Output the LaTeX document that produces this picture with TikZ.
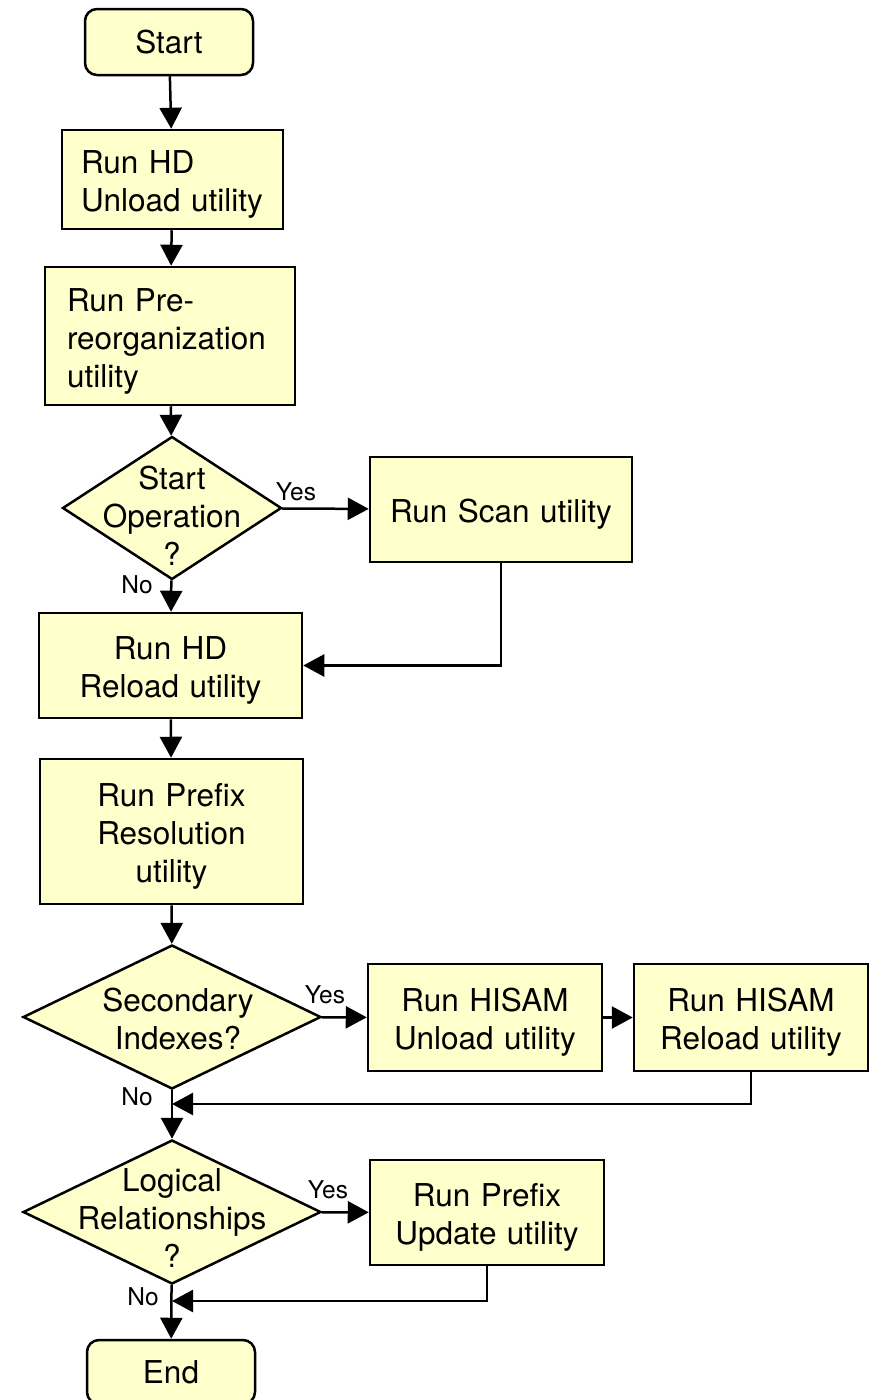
\documentclass[tikz,border=0pt]{standalone}
\usepackage{fontspec}
\setmainfont{TeX Gyre Heros}
\usepackage{tikz}
\usetikzlibrary{arrows.meta,shapes.geometric}

\definecolor{boxfill}{RGB}{255,255,204}

\tikzset{
  txt/.style={font=\fontsize{31.5}{38}\selectfont},
  plain/.style={txt,draw,line width=2.5pt,fill=boxfill,rectangle,align=center,inner sep=0pt},
  box/.style={plain,text width=#1,execute at begin node={\rule{0pt}{33pt}}},
  lbox/.style={box=#1,align=left},
  term/.style={plain,rounded corners=12pt},
  ques/.style={draw,line width=2.5pt,fill=boxfill,diamond,inner sep=0pt},
  qtext/.style={txt,align=center,inner sep=0pt},
  lbl/.style={font=\fontsize{24.5}{28}\selectfont,inner sep=0pt},
  arr/.style={line width=2.5pt,-{Triangle[length=21pt,width=22pt]}}
}

\begin{document}
\begin{tikzpicture}[x=1pt,y=-1pt]
\useasboundingbox (0,0) rectangle (871,1400);

%main column
\node[term,minimum width=168,minimum height=66] (start) at (169,42) {Start};
\node[lbox=183,inner xsep=19,minimum height=99] (unload) at (172.5,179.5) {Run HD\\Unload utility};
\node[lbox=206,inner xsep=22,minimum height=138] (prereorg) at (170,336) {Run Pre-\\reorganization\\utility};
\node[ques,minimum width=219,minimum height=143,label={[qtext,name=q1txt,yshift=-8pt]center:Start\\Operation\\?}] (q1) at (172,508) {};
\node[box=263,minimum height=105] (hdreload) at (170.5,665.5) {Run HD\\Reload utility};
\node[box=263,minimum height=145] (prefixres) at (171.5,831.5) {Run Prefix\\Resolution\\utility};
\node[ques,minimum width=298,minimum height=144,label={[qtext,name=q2txt,xshift=6pt,yshift=-2pt]center:Secondary\\Indexes?}] (q2) at (172,1017) {};
\node[ques,minimum width=298,minimum height=144,label={[qtext,name=q3txt,yshift=-6pt]center:Logical\\Relationships\\?}] (q3) at (172,1212) {};
\node[term,minimum width=168,minimum height=64] (end) at (171,1372) {End};

%side branches
\node[box=262,minimum height=105] (scan) at (501,509.5) {Run Scan utility};
\node[box=234,minimum height=107] (hunload) at (485,1017.5) {Run HISAM\\Unload utility};
\node[box=234,minimum height=107] (hreload) at (751,1017.5) {Run HISAM\\Reload utility};
\node[box=234,minimum height=105] (pupdate) at (487,1212.5) {Run Prefix\\Update utility};

\coordinate (j1) at (172,1104); \coordinate (j2) at (172,1301);

\draw[arr] (start) -- (unload); \draw[arr] (unload) -- (prereorg); \draw[arr] (prereorg) -- (q1);
\draw[arr] (q1) -- (scan); \draw[arr] (q1) -- (hdreload); \draw[arr] (scan) |- (hdreload);
\draw[arr] (hdreload) -- (prefixres); \draw[arr] (prefixres) -- (q2);
\draw[arr] (q2) -- (hunload); \draw[arr] (hunload) -- (hreload); \draw[arr] (hreload) |- (j1);
\draw[arr] (q2) -- (q3);
\draw[arr] (q3) -- (pupdate); \draw[arr] (pupdate) |- (j2);
\draw[arr] (q3) -- (end);

\node[lbl] (y1) at (296,492) {Yes}; \node[lbl] (n1) at (137,585) {No};
\node[lbl] (y2) at (325,995) {Yes}; \node[lbl] (n2) at (137,1097) {No};
\node[lbl] (y3) at (328,1190) {Yes}; \node[lbl] (n3) at (143,1297) {No};

\end{tikzpicture}
\end{document}
